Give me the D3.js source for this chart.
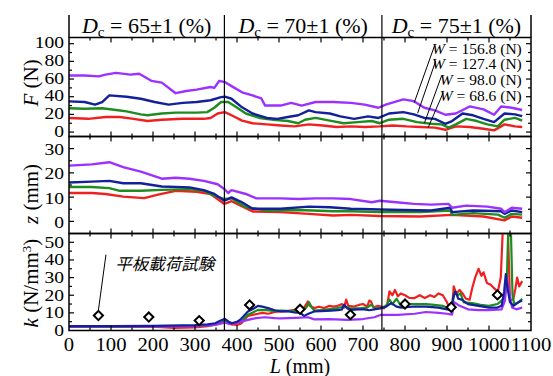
<!DOCTYPE html>
<html><head><meta charset="utf-8">
<script src="https://cdn.jsdelivr.net/npm/d3@7"></script>
<style>
body{margin:0;background:#fff}
svg{display:block}
</style></head>
<body><svg id="c" width="553" height="376" font-family="Liberation Serif, Times New Roman, serif"></svg>
<script>
// ---------------- data ----------------
const sectionBounds = [0, 370, 745, 1100];
const sectionLabels = ["65", "70", "75"];
const loadLabels = ["156.8", "127.4", "98.0", "68.6"];
const seriesColors = ["#9b30ff", "#14209a", "#1e8c1e", "#f02020"]; // purple, blue, green, red
const xTickLabels = [0,100,200,300,400,500,600,700,800,900,1000,1100];
const fTickLabels = [0,20,40,60,80,100];
const zTickLabels = [0,10,20,30];
const kTickLabels = [0,10,20,30,40,50];

// F (N) panel
const F_156 = [[0,64],[37,64],[71,63],[87,65],[112,67],[146,65],[167,66],[196,58],[221,56],[254,44],[279,46.5],[304,48],[337,51],[346,50],[358,58],[371,56.6],[387,52],[412,45],[437,41.5],[458,38],[467,30],[504,30],[529,33],[554,30],[587,34],[629,34],[671,33],[704,31],[737,27.5],[754,31],[796,37],[821,35],[846,27.5],[871,24.5],[896,19.6],[921,21],[954,29],[987,25.7],[1012,19.6],[1029,29],[1054,27.5],[1079,25]];
const F_127 = [[0,34.7],[37,34],[62,31],[79,34],[96,41.5],[137,40],[171,37.7],[204,34],[237,31],[271,33],[304,34],[337,36],[362,39.6],[371,40],[387,37.7],[412,28],[437,21],[471,16],[496,15],[521,17],[546,19],[571,24.5],[587,22.6],[621,21],[646,17.7],[679,15],[712,17.7],[737,16],[762,21],[796,22.6],[821,20],[846,16],[871,15],[896,9.4],[912,12.5],[937,21],[962,19],[987,15],[1012,11.3],[1037,21],[1062,20],[1079,18]];
const F_98 = [[0,27],[37,26.4],[79,27],[112,25],[137,23.4],[171,20],[187,19],[221,21],[254,22],[304,22],[329,22.6],[346,27.5],[362,34],[379,34],[396,29],[421,21],[454,16],[487,14],[521,12.5],[546,10],[562,14],[587,16],[621,13],[654,10],[687,11.3],[721,12.5],[740,10],[762,14],[796,15],[829,11.3],[862,9.4],[887,8.7],[904,5],[921,8.7],[946,15],[971,12.5],[996,8.7],[1021,6.4],[1037,14],[1062,16],[1079,13]];
const F_68 = [[0,16],[46,15],[87,17],[121,17],[154,15],[187,12.5],[221,14],[271,15],[321,15],[337,16],[354,21],[371,22.6],[387,19],[412,13],[437,10],[471,8.7],[504,7.5],[537,6.4],[571,8.7],[604,7.5],[637,5.7],[671,6.4],[704,5.7],[740,6.4],[771,7.5],[804,6.4],[837,5.7],[871,5],[896,2.6],[921,6.4],[954,5.7],[987,3.8],[1012,1.9],[1037,8.7],[1062,6.4],[1079,5.7]];

// z (mm) panel
const Z_156 = [[0,23],[54,23.5],[96,24.4],[129,22.4],[171,20.5],[221,17.6],[254,18],[287,17.6],[321,16.7],[354,15.3],[370,13.3],[379,11.7],[387,12.9],[421,11.3],[446,9.5],[504,9.5],[546,9.2],[587,9.5],[629,9.5],[671,9.2],[721,7.9],[740,8.5],[779,7.9],[821,7.2],[862,6.9],[904,7.2],[912,5.6],[946,6.5],[996,6.1],[1029,5.2],[1037,3.8],[1054,5.6],[1079,5.2]];
const Z_127 = [[0,16],[54,16.4],[96,16.7],[129,15.7],[171,15.7],[221,14.4],[287,14],[321,12.9],[346,11.3],[370,8.5],[387,9.9],[412,7.9],[437,5.2],[504,5.2],[571,6.1],[621,5.8],[671,5.2],[740,4.9],[796,4.7],[862,4.5],[908,5.6],[912,3.8],[962,4.5],[1029,4.2],[1037,3.1],[1054,4.5],[1079,3.8]];
const Z_98 = [[0,14.2],[54,14.2],[96,13.7],[121,12.6],[171,12.6],[221,13],[287,13.3],[321,12.6],[346,10.6],[370,9.2],[387,9.5],[421,5.8],[471,4.5],[546,4.7],[629,4.2],[671,4.2],[740,3.8],[837,3.8],[908,4.5],[912,2.7],[962,3.4],[1021,2.8],[1037,1.5],[1054,3.1],[1079,2.8]];
const Z_68 = [[0,11.7],[54,11.7],[87,11.3],[129,10.2],[179,9.6],[212,11],[254,12.6],[304,12.2],[337,11.3],[370,7.2],[387,8.3],[437,4.1],[504,3.8],[571,3.1],[629,2.4],[671,2.7],[740,2.2],[837,2],[912,2.7],[987,2],[1037,0.4],[1054,2],[1079,1.5]];

// k (N/mm^3) panel
const K_156 = [[0,2.2],[100,2.3],[200,2.2],[300,2.5],[348,3.2],[370,4.5],[380,3.8],[395,4.1],[410,5],[426,6],[445,7],[466,7.5],[490,7],[505,6.9],[540,7.2],[569,7.5],[584,6.3],[620,6.5],[663,6],[700,6.5],[727,7.5],[743,8.9],[783,8.9],[823,9.5],[850,10.5],[880,10],[900,9.5],[912,9],[918,16],[930,14],[950,12],[975,11.5],[1000,11.5],[1030,12],[1038,17],[1043,29],[1048,22],[1055,13],[1065,12],[1079,13]];
const K_127 = [[0,2.5],[100,2.5],[200,2.6],[300,3],[330,3.5],[348,4.1],[360,5.5],[371,6.6],[380,5],[387,4.1],[400,5],[407,6],[415,8],[426,10.8],[440,12.5],[450,14],[460,13.5],[474,12.7],[490,11.5],[505,10.8],[520,11],[537,10.2],[550,10],[560,8.3],[570,9.5],[584,10.8],[600,11],[624,11.3],[640,11.5],[650,12],[655,14.6],[663,12.5],[671,11.7],[690,12],[703,12],[715,11.5],[727,12],[743,12.7],[755,13.5],[767,15.5],[780,13.5],[791,13],[823,13.6],[850,13.5],[880,13],[900,12],[910,11.5],[915,19],[920,22],[927,18],[935,17.5],[950,15],[975,14],[1000,13],[1020,13],[1030,14],[1036,22],[1040,32],[1044,24],[1050,16],[1058,14],[1070,16],[1079,17]];
const K_98 = [[0,2.2],[100,2.2],[200,2.4],[300,2.6],[340,3],[360,4],[370,5.5],[380,4.5],[395,4.1],[410,5],[426,8.9],[440,10.5],[450,11.7],[470,11.5],[490,11],[505,11.3],[530,11],[553,10.8],[565,13],[572,15.9],[578,13],[584,11.3],[600,11.5],[616,12],[635,12.5],[655,13.6],[670,12.5],[695,12.7],[710,13],[719,14.6],[730,12.5],[743,12.7],[755,14],[763,17.5],[770,15],[780,18],[791,13.6],[810,15],[830,15],[850,15],[870,14.5],[890,14],[905,12.5],[912,13],[918,22],[925,20],[932,21],[940,16],[960,15.5],[980,14.5],[1000,14],[1020,15],[1035,18],[1042,25],[1046,58],[1052,58],[1056,20],[1060,15],[1070,16],[1079,18]];
const K_68 = [[0,2],[100,2],[200,2.2],[250,1.5],[300,1.8],[330,2.5],[350,3.5],[370,5],[385,3.5],[400,3.2],[410,4],[426,8.3],[440,9],[450,9.5],[460,10],[475,9.5],[490,10.5],[505,10.8],[520,11],[537,11.7],[550,12.5],[560,13],[565,15],[569,16.5],[573,14],[584,12.7],[595,13.5],[608,12.7],[620,14],[630,13.5],[640,14],[650,15],[655,13],[660,17.5],[665,14],[679,13.6],[690,14.5],[700,15],[710,13.5],[715,17],[719,16.5],[725,13],[735,14],[743,13.6],[750,12.5],[758,15],[763,22.2],[770,20],[776,23],[783,19.4],[790,21],[800,20],[810,18.5],[823,18.4],[835,20],[847,18.4],[860,20],[870,19],[880,21],[890,20],[900,16],[905,13],[912,12],[916,25],[922,21],[930,23],[937,21],[945,18],[954,17.5],[960,24],[967,30],[975,35],[982,31],[987,33],[995,27],[1004,26],[1012,24],[1021,22],[1028,30],[1033,58],[1040,58],[1045,58],[1050,16.5],[1058,18],[1063,24],[1067,30],[1072,25],[1079,28]];

// plate loading test points
const plateL = [70,190,310,430,550,670,800,910,1020];
const plateK = [8.5,7.6,5.6,14.5,12,9,15,13.2,20.2];

// ---------------- drawing ----------------
const SERIF = "Liberation Serif";
const svg = d3.select("#c");
const x = d3.scaleLinear().domain([0,1100]).range([69,531]);
const yF = d3.scaleLinear().domain([-5,107]).range([136.5,37.5]);
const yZ = d3.scaleLinear().domain([-5,35]).range([233.5,136.5]);
const yK = d3.scaleLinear().domain([0,55]).range([330.5,233.5]);
const SX = 1.15; // horizontal text stretch of the reference

function stext(g, px, py, str, size, anchor){
  return g.append("text").attr("transform",`translate(${px},${py}) scale(${SX},1)`)
    .attr("font-family",SERIF).attr("text-anchor",anchor||"middle").attr("font-size",size).text(str);
}

const panels = [
  {y:yF, series:[F_68,F_98,F_127,F_156], order:[3,2,1,0], labels:fTickLabels, minor:10, id:"pF", sw:2.4, dy:4.5},
  {y:yZ, series:[Z_68,Z_98,Z_127,Z_156], order:[3,2,1,0], labels:zTickLabels, minor:5, id:"pZ", sw:2.4, dy:6.5},
  {y:yK, series:[K_68,K_98,K_156,K_127], order:[3,2,0,1], labels:kTickLabels, minor:5, id:"pK", sw:2.2, dy:5.5}
];

const defs = svg.append("defs");
panels.forEach(p=>{
  const [y0,y1] = p.y.range();
  defs.append("clipPath").attr("id",p.id).append("rect")
    .attr("x",x(0)).attr("y",y1).attr("width",x(1100)-x(0)).attr("height",y0-y1);
});

panels.forEach(p=>{
  const y = p.y;
  const [yb, yt] = y.range();
  const g = svg.append("g");
  const line = d3.line().x(d=>x(d[0])).y(d=>y(d[1]));
  const lg = g.append("g").attr("clip-path",`url(#${p.id})`);
  p.series.forEach((s,i)=>{
    lg.append("path").attr("d",line(s)).attr("fill","none")
      .attr("stroke",seriesColors[p.order[i]]).attr("stroke-width",p.sw)
      .attr("stroke-linejoin","round");
  });
  d3.range(50,1100,50).forEach(v=>{
    const len = v%100===0 ? 5 : 3;
    g.append("line").attr("x1",x(v)).attr("x2",x(v)).attr("y1",yt).attr("y2",yt+len).attr("stroke","#000").attr("stroke-width",1.2);
    g.append("line").attr("x1",x(v)).attr("x2",x(v)).attr("y1",yb).attr("y2",yb-len).attr("stroke","#000").attr("stroke-width",1.2);
  });
  const dom = y.domain();
  const step = p.minor;
  for(let v=Math.ceil(dom[0]/step)*step; v<=dom[1]; v+=step){
    if (Math.abs(y(v)-yt)<1 || Math.abs(y(v)-yb)<1) continue;
    const major = p.labels.includes(v);
    const len = major?5:3;
    g.append("line").attr("x1",x(0)).attr("x2",x(0)+len).attr("y1",y(v)).attr("y2",y(v)).attr("stroke","#000").attr("stroke-width",1.2);
    g.append("line").attr("x1",x(1100)).attr("x2",x(1100)-len).attr("y1",y(v)).attr("y2",y(v)).attr("stroke","#000").attr("stroke-width",1.2);
  }
  p.labels.forEach(v=>{
    stext(g, 64, y(v)+p.dy, String(v), 17, "end");
  });
  g.append("rect").attr("x",x(0)).attr("y",yt).attr("width",x(1100)-x(0)).attr("height",yb-yt)
    .attr("fill","none").attr("stroke","#000").attr("stroke-width",1.5);
});

// section separators and header
const topY = 15;
sectionBounds.forEach((b,i)=>{
  svg.append("line").attr("x1",x(b)).attr("x2",x(b))
    .attr("y1",topY).attr("y2", (i===0||i===3)? yF.range()[1] : yK.range()[0])
    .attr("stroke","#000").attr("stroke-width", (i===0||i===3)?1.5:1.2);
});
sectionLabels.forEach((lab,i)=>{
  const cx = (x(sectionBounds[i])+x(sectionBounds[i+1]))/2;
  const t = svg.append("text").attr("x",cx).attr("y",33).attr("text-anchor","middle")
    .attr("font-family",SERIF).attr("font-size",22);
  t.append("tspan").attr("font-style","italic").text("D");
  t.append("tspan").attr("dy",4).attr("font-size",15).text("c");
  t.append("tspan").attr("dy",-4).text(` = ${lab}\u00b11 (%)`);
});

// x tick labels
xTickLabels.forEach(v=>{
  stext(svg, x(v), 351, String(v), 18, "middle");
});

// axis titles
function ytitle(cy, parts){
  const t = svg.append("text").attr("transform",`translate(38,${cy}) rotate(-90)`)
    .attr("text-anchor","middle").attr("font-family",SERIF).attr("font-size",21);
  parts.forEach(p=>{
    const ts = t.append("tspan").text(p.t);
    if(p.i) ts.attr("font-style","italic");
    if(p.sup) ts.attr("dy",-7).attr("font-size",13);
    if(p.after) ts.attr("dy",7);
  });
}
ytitle(83, [{t:"F",i:true},{t:" (N)"}]);
ytitle(194, [{t:"z",i:true},{t:" (mm)"}]);
ytitle(283, [{t:"k",i:true},{t:" (N/mm"},{t:"3",sup:true},{t:")",after:true}]);

const xt = svg.append("text").attr("x",x(550)).attr("y",373).attr("text-anchor","middle")
  .attr("font-family",SERIF).attr("font-size",20);
xt.append("tspan").attr("font-style","italic").text("L");
xt.append("tspan").text(" (mm)");

// legend with leader lines (panel F)
const legendRows = [88.5, 71, 53.5, 35.5];
const leaders = [
  [[870,97.4],[822,33.3]],
  [[873,80.4],[830,21.3]],
  [[887,63.5],[846,10]],
  [[891,44.6],[855,5]]
];
loadLabels.forEach((lab,i)=>{
  const t = svg.append("text").attr("x",x(1078)).attr("y",yF(legendRows[i])).attr("text-anchor","end")
    .attr("font-family",SERIF).attr("font-size",15.5);
  t.append("tspan").attr("font-style","italic").text("W");
  t.append("tspan").text(` = ${lab} (N)`);
  const l = leaders[i];
  svg.append("line").attr("x1",x(l[0][0])).attr("y1",yF(l[0][1])).attr("x2",x(l[1][0])).attr("y2",yF(l[1][1]))
    .attr("stroke","#000").attr("stroke-width",1);
});

// plate loading test markers
const sym = d3.symbol().type(d3.symbolSquare).size(42);
plateL.forEach((L,i)=>{
  svg.append("path").attr("d",sym()).attr("transform",`translate(${x(L)},${yK(plateK[i])}) rotate(45)`)
    .attr("fill","#fff").attr("stroke","#000").attr("stroke-width",2);
});
svg.append("line").attr("x1",x(88)).attr("y1",yK(43)).attr("x2",x(70)).attr("y2",yK(11.5))
  .attr("stroke","#000").attr("stroke-width",1);
svg.append("text").attr("x",x(110)).attr("y",yK(34.5)).attr("font-size",16.5)
  .attr("font-family","Noto Sans CJK JP").attr("font-style","italic").text("平板載荷試験");
</script></body></html>
